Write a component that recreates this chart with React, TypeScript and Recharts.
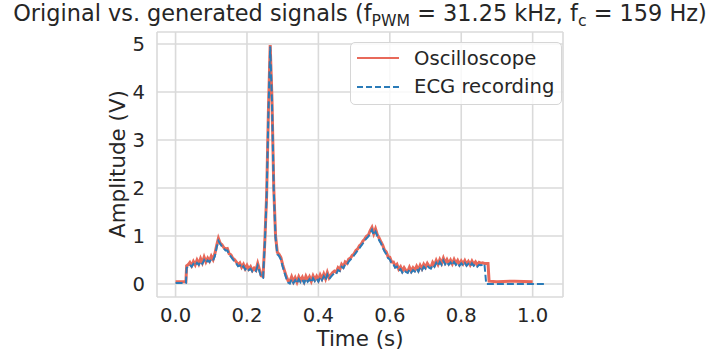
import React from "react";
import { LineChart, Line, XAxis, YAxis, CartesianGrid, Legend } from "recharts";

// sample times (s)
const times = [
  0, 0.01, 0.02, 0.029, 0.031,
  0.035, 0.04, 0.045, 0.05, 0.055, 0.06, 0.065, 0.07, 0.075, 0.08,
  0.085, 0.09, 0.095, 0.1, 0.105, 0.11, 0.115, 0.12, 0.125, 0.13,
  0.135, 0.14, 0.145, 0.15, 0.155, 0.16, 0.165, 0.17, 0.175, 0.18,
  0.185, 0.19, 0.195, 0.2, 0.205, 0.21, 0.215, 0.22, 0.225, 0.23,
  0.235, 0.24, 0.245, 0.25, 0.255, 0.26, 0.265, 0.27, 0.275, 0.28,
  0.285, 0.29, 0.295, 0.3, 0.305, 0.31, 0.315, 0.32, 0.325, 0.33,
  0.335, 0.34, 0.345, 0.35, 0.355, 0.36, 0.365, 0.37, 0.375, 0.38,
  0.385, 0.39, 0.395, 0.4, 0.405, 0.41, 0.415, 0.42, 0.425, 0.43,
  0.435, 0.44, 0.445, 0.45, 0.455, 0.46, 0.465, 0.47, 0.475, 0.48,
  0.485, 0.49, 0.495, 0.5, 0.505, 0.51, 0.515, 0.52, 0.525, 0.53,
  0.535, 0.54, 0.545, 0.55, 0.555, 0.56, 0.565, 0.57, 0.575, 0.58,
  0.585, 0.59, 0.595, 0.6, 0.605, 0.61, 0.615, 0.62, 0.625, 0.63,
  0.635, 0.64, 0.645, 0.65, 0.655, 0.66, 0.665, 0.67, 0.675, 0.68,
  0.685, 0.69, 0.695, 0.7, 0.705, 0.71, 0.715, 0.72, 0.725, 0.73,
  0.735, 0.74, 0.745, 0.75, 0.755, 0.76, 0.765, 0.77, 0.775, 0.78,
  0.785, 0.79, 0.795, 0.8, 0.805, 0.81, 0.815, 0.82, 0.825, 0.83,
  0.835, 0.84, 0.845, 0.85, 0.855, 0.86, 0.865, 0.87,
  0.875, 0.878, 0.9, 0.95, 1.0, 1.033,
];

// oscilloscope capture (V)
const scope = [
  0.05, 0.05, 0.05, 0.05, 0.38,
  0.40, 0.45, 0.38, 0.47, 0.40, 0.50, 0.42, 0.53, 0.44, 0.56,
  0.46, 0.54, 0.48, 0.58, 0.51, 0.63, 0.80, 0.95, 0.85, 0.82,
  0.76, 0.73, 0.74, 0.63, 0.61, 0.54, 0.51, 0.46, 0.40, 0.44,
  0.35, 0.41, 0.32, 0.39, 0.31, 0.36, 0.28, 0.33, 0.29, 0.43,
  0.30, 0.17, 0.16, 0.90, 1.85, 3.60, 4.98, 3.85, 2.00, 1.00,
  0.66, 0.62, 0.55, 0.40, 0.28, 0.16, 0.07, 0.05, 0.15, 0.05,
  0.13, 0.04, 0.15, 0.07, 0.14, 0.05, 0.16, 0.08, 0.15, 0.06,
  0.17, 0.09, 0.16, 0.08, 0.19, 0.11, 0.21, 0.11, 0.24, 0.13,
  0.19, 0.24, 0.27, 0.25, 0.34, 0.30, 0.41, 0.36, 0.46, 0.43,
  0.52, 0.54, 0.60, 0.63, 0.70, 0.73, 0.80, 0.83, 0.90, 0.94,
  1.00, 1.02, 1.11, 1.18, 1.05, 1.15, 1.03, 0.96, 0.88, 0.81,
  0.71, 0.67, 0.57, 0.56, 0.46, 0.46, 0.37, 0.41, 0.31, 0.36,
  0.27, 0.34, 0.28, 0.26, 0.35, 0.27, 0.34, 0.29, 0.37, 0.29,
  0.39, 0.32, 0.41, 0.35, 0.43, 0.37, 0.35, 0.45, 0.39, 0.49,
  0.41, 0.51, 0.43, 0.54, 0.44, 0.51, 0.43, 0.50, 0.42, 0.51,
  0.43, 0.49, 0.41, 0.48, 0.42, 0.49, 0.41, 0.47, 0.40, 0.48,
  0.41, 0.46, 0.40, 0.45, 0.43, 0.44, 0.43, 0.43,
  0.43, 0.06, 0.05, 0.06, 0.05, null,
];

// original ECG recording (V)
const ecg = [
  0.02, 0.02, 0.02, 0.02, 0.33,
  0.37, 0.40, 0.36, 0.42, 0.38, 0.44, 0.40, 0.47, 0.42, 0.50,
  0.44, 0.49, 0.46, 0.52, 0.49, 0.58, 0.76, 0.90, 0.84, 0.78,
  0.74, 0.70, 0.70, 0.61, 0.57, 0.52, 0.47, 0.43, 0.37, 0.39,
  0.33, 0.37, 0.30, 0.34, 0.29, 0.32, 0.26, 0.29, 0.27, 0.38,
  0.26, 0.14, 0.13, 0.86, 1.80, 3.55, 4.95, 3.80, 1.95, 0.96,
  0.62, 0.58, 0.51, 0.36, 0.24, 0.12, 0.03, 0.01, 0.10, 0.02,
  0.08, 0.01, 0.10, 0.04, 0.09, 0.02, 0.11, 0.05, 0.10, 0.03,
  0.12, 0.06, 0.11, 0.05, 0.14, 0.08, 0.16, 0.08, 0.19, 0.10,
  0.15, 0.19, 0.23, 0.21, 0.29, 0.27, 0.36, 0.33, 0.41, 0.40,
  0.47, 0.51, 0.55, 0.60, 0.65, 0.70, 0.75, 0.80, 0.85, 0.91,
  0.95, 0.99, 1.06, 1.13, 1.02, 1.09, 1.00, 0.91, 0.85, 0.76,
  0.68, 0.62, 0.54, 0.51, 0.43, 0.41, 0.34, 0.36, 0.28, 0.31,
  0.24, 0.29, 0.25, 0.23, 0.30, 0.24, 0.29, 0.26, 0.32, 0.26,
  0.34, 0.29, 0.36, 0.32, 0.38, 0.34, 0.32, 0.40, 0.36, 0.44,
  0.38, 0.46, 0.40, 0.49, 0.41, 0.46, 0.40, 0.45, 0.39, 0.46,
  0.40, 0.44, 0.38, 0.43, 0.39, 0.44, 0.38, 0.42, 0.37, 0.43,
  0.38, 0.41, 0.36, 0.40, 0.39, 0.40, 0.42, 0.00,
  0.00, 0.00, 0.00, 0.00, 0.00, 0.00,
];

const xTicks = [0, 0.2, 0.4, 0.6, 0.8, 1.0];
const yTicks = [0, 1, 2, 3, 4, 5];

const data = times.map((t, i) => ({ t, scope: scope[i], ecg: ecg[i] }));

const FONT = "'DejaVu Sans', sans-serif";
const TEXT = "#262626";
const RED = "#e8695a";
const BLUE = "#2a7bb8";

const seriesStyle: Record<string, { color: string; dash?: string; width: number }> = {
  scope: { color: RED, width: 2 },
  ecg: { color: BLUE, dash: "6 3", width: 1.8 },
};
const legendOrder = ["scope", "ecg"];

const renderLegend = (props: any) => {
  const payload = [...(props.payload || [])].sort(
    (a: any, b: any) => legendOrder.indexOf(a.dataKey) - legendOrder.indexOf(b.dataKey)
  );
  return (
    <div style={{
      width: 212, height: 63, boxSizing: "border-box",
      border: "1px solid #d6d6d6", borderRadius: 5,
      background: "rgba(255,255,255,0.8)",
      fontFamily: FONT, fontSize: 19.6, color: TEXT,
      paddingTop: 1,
    }}>
      {payload.map((p: any) => {
        const s = seriesStyle[p.dataKey] || { color: p.color, width: 2 };
        return (
          <div key={p.dataKey} style={{ display: "flex", alignItems: "center", height: 28.5 }}>
            <svg width={63} height={6} style={{ flex: "none" }}>
              <line x1={6} x2={48} y1={3} y2={3} stroke={s.color}
                strokeWidth={s.width} strokeDasharray={s.dash} />
            </svg>
            <span style={{ whiteSpace: "nowrap" }}>{p.value}</span>
          </div>
        );
      })}
    </div>
  );
};

export default function App() {
  return (
    <div style={{ position: "absolute", left: 0, top: 0, width: 710, height: 356, background: "#fff" }}>
      <LineChart
        width={710}
        height={356}
        data={data}
        margin={{ top: 32, right: 147, bottom: 29, left: 97 }}
      >
        <CartesianGrid stroke="#dadada" strokeWidth={1.6} />
        <XAxis
          dataKey="t"
          type="number"
          domain={[-0.052, 1.085]}
          ticks={xTicks}
          allowDataOverflow
          tickFormatter={(v: number) => v.toFixed(1)}
          axisLine={false}
          tickLine={false}
          tickSize={0}
          tickMargin={11}
          height={30}
          tick={{ fill: TEXT, fontSize: 19.6, fontFamily: FONT }}
        />
        <YAxis
          type="number"
          domain={[-0.27, 5.25]}
          ticks={yTicks}
          allowDataOverflow
          axisLine={false}
          tickLine={false}
          tickSize={0}
          tickMargin={12}
          width={60}
          tick={{ fill: TEXT, fontSize: 19.6, fontFamily: FONT }}
        />
        <Legend
          layout="vertical"
          align="center"
          verticalAlign="middle"
          content={renderLegend}
          wrapperStyle={{ left: 350, top: 42, width: 212, height: 63 }}
        />
        <Line
          dataKey="scope"
          name="Oscilloscope"
          stroke={RED}
          strokeWidth={3}
          dot={false}
          activeDot={false}
          isAnimationActive={false}
        />
        <Line
          dataKey="ecg"
          name="ECG recording"
          stroke={BLUE}
          strokeWidth={2}
          strokeDasharray="7 3"
          dot={false}
          activeDot={false}
          isAnimationActive={false}
        />
      </LineChart>

      {/* title and axis labels */}
      <svg width={710} height={356} style={{ position: "absolute", left: 0, top: 0, pointerEvents: "none" }}>
        <text x={360} y={21} textAnchor="middle" fontFamily={FONT} fontSize={22.4} fill={TEXT}>
          Original vs. generated signals (f
          <tspan dy={4.5} fontSize={15.7}>PWM</tspan>
          <tspan dy={-4.5}> = 31.25 kHz, f</tspan>
          <tspan dy={4.5} fontSize={15.7}>c</tspan>
          <tspan dy={-4.5}> = 159 Hz)</tspan>
        </text>
        <text x={360} y={346} textAnchor="middle" fontFamily={FONT} fontSize={21.4} fill={TEXT}>
          Time (s)
        </text>
        <text
          x={125}
          y={164}
          textAnchor="middle"
          fontFamily={FONT}
          fontSize={21.4}
          fill={TEXT}
          transform="rotate(-90 125 164)"
        >
          Amplitude (V)
        </text>
      </svg>
    </div>
  );
}
